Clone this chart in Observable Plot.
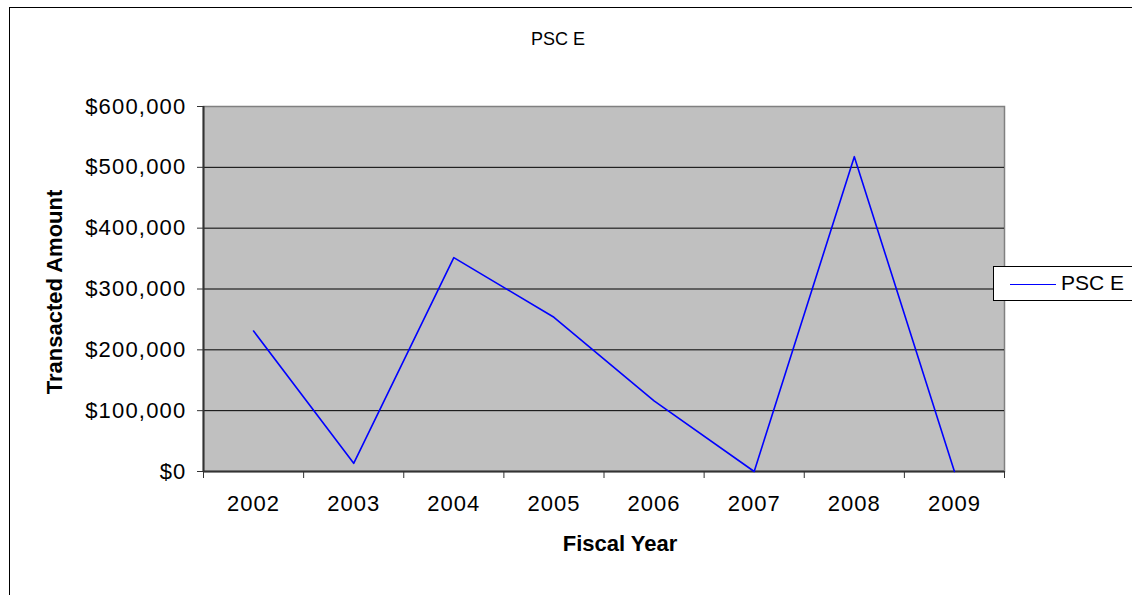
<!DOCTYPE html>
<html>
<head>
<meta charset="utf-8">
<script src="https://cdn.jsdelivr.net/npm/d3@7"></script>
<script src="https://cdn.jsdelivr.net/npm/@observablehq/plot@0.6"></script>
<style>
  html, body { margin: 0; padding: 0; background: #fff; overflow: hidden; }
  #wrap { position: relative; width: 1132px; height: 595px; overflow: hidden; font-family: "Liberation Sans", Arial, sans-serif; }
  #border { position: absolute; left: 9px; top: 7px; width: 1200px; height: 700px; border: 1px solid #000; box-sizing: border-box; pointer-events: none; }
  #legend { position: absolute; left: 993px; top: 266px; width: 200px; height: 35px; border: 1px solid #000; background: #fff; box-sizing: border-box; }
  #legend .sw { position: absolute; left: 16px; top: 17px; width: 46px; height: 0; border-top: 1.5px solid #0000ff; }
  #legend .lb { position: absolute; left: 67px; top: 4px; font-size: 21px; color: #000; white-space: nowrap; }
  #chart g[aria-label="y-axis tick label"] text { letter-spacing: 1.2px; }
  #chart g[aria-label="x-axis tick label"] text { letter-spacing: 1px; }
</style>
</head>
<body>
<div id="wrap">
  <div id="chart"></div>
  <div id="border"></div>
  <div id="legend"><div class="sw"></div><div class="lb">PSC E</div></div>
</div>
<script>
const chartTitle = "PSC E";
const seriesName = "PSC E";
const years = ["2002", "2003", "2004", "2005", "2006", "2007", "2008", "2009"];
const amounts = [231000, 13500, 351500, 253500, 116000, 0, 517500, 0];
const yTicks = [0, 100000, 200000, 300000, 400000, 500000, 600000];
const xLabel = "Fiscal Year";
const yLabel = "Transacted Amount";

const data = years.map((y, i) => ({i, year: y, value: amounts[i]}));
const idx = years.map((_, i) => i);
const bounds = years.map((_, i) => i - 0.5).concat([years.length - 0.5]);

const plot = Plot.plot({
  width: 1132,
  height: 595,
  marginLeft: 203,
  marginRight: 128,
  marginTop: 106,
  marginBottom: 124,
  style: {fontFamily: "'Liberation Sans', Arial, sans-serif", background: "transparent", color: "#000"},
  x: {type: "linear", domain: [-0.5, years.length - 0.5]},
  y: {domain: [0, 600000]},
  marks: [
    Plot.frame({fill: "#c0c0c0", stroke: "#808080", strokeWidth: 1.5}),
    Plot.ruleY(yTicks.filter(d => d > 0 && d < 600000), {stroke: "#000", strokeWidth: 1}),
    Plot.ruleX([-0.5], {stroke: "#333", strokeWidth: 2}),
    Plot.ruleY([0], {stroke: "#333", strokeWidth: 2}),
    Plot.axisY({ticks: yTicks, tickSize: 6, tickPadding: 11, tickFormat: d3.format("$,"), fontSize: 22, stroke: "#333", label: null}),
    Plot.axisX({ticks: bounds, tickSize: 7, tickFormat: () => "", stroke: "#333", label: null}),
    Plot.axisX({ticks: idx, tickSize: 0, tickPadding: 24, tickFormat: i => years[i], fontSize: 22, label: null}),
    Plot.line(data, {x: "i", y: "value", stroke: "#0000ff", strokeWidth: 1.6}),
    Plot.text([chartTitle], {frameAnchor: "top", dx: -46, dy: -74, fontSize: 18, fill: "#000"}),
    Plot.text([xLabel], {frameAnchor: "bottom", dx: 16, dy: 79, fontSize: 22, fontWeight: "bold", fill: "#000", style: "letter-spacing:1.2px"}),
    Plot.text([yLabel], {frameAnchor: "left", textAnchor: "middle", dx: -149, dy: 3, rotate: -90, fontSize: 22, fontWeight: "bold", fill: "#000", style: "letter-spacing:2px"})
  ]
});
document.getElementById("chart").appendChild(plot);
</script>
</body>
</html>
